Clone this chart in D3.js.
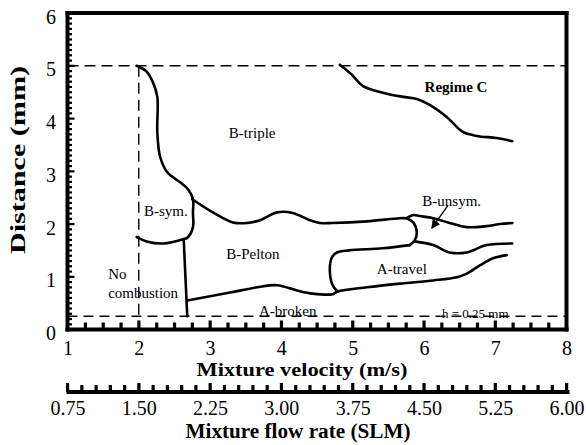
<!DOCTYPE html>
<html><head><meta charset="utf-8">
<script src="https://cdn.jsdelivr.net/npm/d3@7"></script>
<style>body{margin:0;background:#fff}svg{display:block}</style>
</head><body>
<svg id="c" width="586" height="445"></svg>
<script>
// ---- data (velocity m/s, distance mm) ----
const velocityTicks = [1, 2, 3, 4, 5, 6, 7, 8];
const distanceTicks = [0, 1, 2, 3, 4, 5, 6];
const flowTicks = [0.75, 1.50, 2.25, 3.00, 3.75, 4.50, 5.25, 6.00];
const upperDistance = 5;       // dashed line
const wallDistance = 0.25;     // h = 0.25 mm
const minVelocity = 2;         // no-combustion limit

const bTripleBoundary = [[1.97,5.00],[2.11,4.89],[2.20,4.68],[2.26,4.41],[2.26,3.73],[2.30,3.27],[2.40,2.98],[2.58,2.79],[2.69,2.66],[2.76,2.47],[2.76,2.22],[2.76,1.94],[2.69,1.75],[2.62,1.71],[2.34,1.63],[2.11,1.67],[1.97,1.75]];
const bSymPeltonDivider = [[2.63,1.71],[2.68,0.25]];
const bPeltonTop = [[2.75,2.47],[3.04,2.22],[3.32,2.03],[3.52,2.02],[3.70,2.07],[3.94,2.22],[4.16,2.21],[4.40,2.07],[4.54,2.02],[4.72,2.02],[5.20,2.05],[5.66,2.11],[5.76,2.11]];
const bUnsymLeft = [[5.76,2.11],[5.85,2.03],[5.90,1.84],[5.87,1.69],[5.80,1.60]];
const bUnsymTop = [[5.76,2.11],[5.85,2.17],[5.94,2.15],[6.13,2.11],[6.36,2.02],[6.60,1.94],[6.88,1.96],[7.07,2.00],[7.24,2.02]];
const bUnsymBottom = [[5.87,1.67],[6.13,1.60],[6.36,1.46],[6.60,1.46],[6.88,1.60],[7.24,1.63]];
const aTravelTop = [[5.80,1.60],[5.42,1.54],[4.95,1.50],[4.78,1.46],[4.71,1.37],[4.68,1.12],[4.72,0.84],[4.79,0.72]];
const aBrokenTop = [[2.68,0.55],[3.28,0.70],[3.66,0.80],[3.94,0.84],[4.22,0.74],[4.44,0.68],[4.72,0.67],[4.79,0.72],[5.20,0.80],[5.66,0.87],[6.13,0.93],[6.46,0.99],[6.60,1.06],[6.79,1.22],[6.97,1.35],[7.16,1.41]];
const regimeCBoundary = [[4.82,5.02],[4.99,4.83],[5.14,4.62],[5.42,4.49],[5.71,4.41],[5.90,4.37],[6.08,4.26],[6.32,4.03],[6.54,3.75],[6.74,3.67],[7.02,3.63],[7.24,3.57]];

const regionNames = ["B-triple", "Regime C", "B-sym.", "B-Pelton", "A-travel", "A-broken", "B-unsym."];
const regionVelocity = [3.59, 6.45, 2.38, 3.60, 5.69, 4.09, 6.39];
const regionDistance = [3.73, 4.60, 2.26, 1.43, 1.16, 0.36, 2.45];
const noCombustionLines = ["No", "combustion"];
const noCombustionAt = [1.57, 1.06, 0.70]; // velocity, distance line1, distance line2
const wallLabel = "h = 0.25 mm";
const wallLabelAt = [6.72, 0.30];
const arrowFrom = [6.34, 2.36];
const arrowTo = [6.11, 1.92];

// ---- drawing ----
const svg = d3.select("#c");
const FONT = "'Liberation Serif','DejaVu Serif',serif";
const x = d3.scaleLinear().domain([1, 8]).range([67.5, 566.5]);
const y = d3.scaleLinear().domain([0, 6]).range([329.5, 13]);
const flow = d3.scaleLinear().domain([0.75, 6]).range([67.5, 566.5]);
const X0 = x(1), X1 = x(8), Y0 = y(0), Y1 = y(6);

// dashed reference lines
svg.append("line").attr("x1", X0).attr("x2", X1).attr("y1", y(upperDistance)).attr("y2", y(upperDistance))
  .attr("stroke", "#000").attr("stroke-width", 1.4).attr("stroke-dasharray", "11,6");
svg.append("line").attr("x1", X0).attr("x2", X1).attr("y1", y(wallDistance)).attr("y2", y(wallDistance))
  .attr("stroke", "#000").attr("stroke-width", 1.4).attr("stroke-dasharray", "10,6");
svg.append("line").attr("x1", x(minVelocity)).attr("x2", x(minVelocity)).attr("y1", y(upperDistance)).attr("y2", Y0)
  .attr("stroke", "#000").attr("stroke-width", 1.4).attr("stroke-dasharray", "11,6");

// boundary curves
const line = d3.line().x(d => x(d[0])).y(d => y(d[1])).curve(d3.curveCatmullRom.alpha(0.5));
[bTripleBoundary, bSymPeltonDivider, bPeltonTop, bUnsymLeft, bUnsymTop, bUnsymBottom, aTravelTop, aBrokenTop, regimeCBoundary]
  .forEach(pts => svg.append("path").attr("d", line(pts)).attr("fill", "none")
    .attr("stroke", "#000").attr("stroke-width", 2.6).attr("stroke-linejoin", "round").attr("stroke-linecap", "round"));

// arrow
svg.append("defs").append("marker").attr("id", "ah").attr("viewBox", "0 0 10 10").attr("refX", 9).attr("refY", 5)
  .attr("markerWidth", 7).attr("markerHeight", 7).attr("orient", "auto")
  .append("path").attr("d", "M0,0L10,5L0,10z").attr("fill", "#000");
svg.append("line").attr("x1", x(arrowFrom[0])).attr("y1", y(arrowFrom[1])).attr("x2", x(arrowTo[0])).attr("y2", y(arrowTo[1]))
  .attr("stroke", "#000").attr("stroke-width", 1.3).attr("marker-end", "url(#ah)");

// region labels
svg.selectAll("text.region").data(regionNames).join("text").attr("class", "region")
  .attr("x", (d, i) => x(regionVelocity[i])).attr("y", (d, i) => y(regionDistance[i])).attr("dy", "0.35em")
  .attr("text-anchor", "middle").attr("font-family", FONT).attr("font-size", 15)
  .attr("font-weight", d => d === "Regime C" ? "bold" : "normal").text(d => d);
noCombustionLines.forEach((t, i) => svg.append("text").attr("x", x(noCombustionAt[0])).attr("y", y(noCombustionAt[i + 1]))
  .attr("dy", "0.35em").attr("font-family", FONT).attr("font-size", 15).text(t));
svg.append("text").attr("x", x(wallLabelAt[0])).attr("y", y(wallLabelAt[1])).attr("dy", "0.35em")
  .attr("text-anchor", "middle").attr("font-family", FONT).attr("font-size", 13).text(wallLabel);

// frame
const frame = svg.append("g").attr("stroke", "#000").attr("stroke-width", 4).attr("stroke-linecap", "square");
frame.append("line").attr("x1", X0).attr("x2", X0).attr("y1", Y1).attr("y2", Y0);
frame.append("line").attr("x1", X0).attr("x2", X1).attr("y1", Y0).attr("y2", Y0);
frame.append("line").attr("x1", X1).attr("x2", X1).attr("y1", Y1).attr("y2", Y0);
frame.append("line").attr("x1", X0).attr("x2", X1).attr("y1", Y1).attr("y2", Y1);

// minor ticks
const yMinor = d3.range(0.1, 6, 0.1);
svg.append("g").selectAll("rect").data(yMinor).join("rect")
  .attr("x", X0).attr("y", d => y(d) - 1).attr("height", 2.2)
  .attr("width", d => Math.abs(d - Math.round(d)) < 1e-6 ? 7 : 4.5).attr("fill", "#000");
const xMinor = d3.range(1.25, 8, 0.25);
svg.append("g").selectAll("rect").data(xMinor).join("rect")
  .attr("x", d => x(d) - 1.5).attr("width", 3.2)
  .attr("y", d => Y0 - (Math.abs(d - Math.round(d)) < 1e-6 ? 9 : 7)).attr("height", d => Math.abs(d - Math.round(d)) < 1e-6 ? 9 : 7)
  .attr("fill", "#000");

// axes labels via d3 axes
const gx = svg.append("g").attr("transform", `translate(0,${Y0})`)
  .call(d3.axisBottom(x).tickValues(velocityTicks).tickSize(0).tickPadding(11).tickFormat(d3.format("d")));
const gy = svg.append("g").attr("transform", `translate(${X0},0)`)
  .call(d3.axisLeft(y).tickValues(distanceTicks).tickSize(0).tickPadding(11.5).tickFormat(d3.format("d")));
gy.selectAll("text").attr("dy", "0.5em");

// flow-rate axis
const FY = 392;
const gf = svg.append("g").attr("transform", `translate(0,${FY})`)
  .call(d3.axisBottom(flow).tickValues(flowTicks).tickSize(0).tickPadding(9).tickFormat(d3.format(".2f")));
svg.append("line").attr("x1", flow(0.75) - 1).attr("x2", flow(6) + 3).attr("y1", FY).attr("y2", FY)
  .attr("stroke", "#000").attr("stroke-width", 4);
const fMinor = d3.range(0.75, 6.0001, 0.15);
svg.append("g").selectAll("rect").data(fMinor).join("rect")
  .attr("x", d => flow(d) - 1.5).attr("width", 3.2)
  .attr("y", d => FY - (Math.abs(d / 0.75 - Math.round(d / 0.75)) < 1e-6 ? 9 : 7))
  .attr("height", d => Math.abs(d / 0.75 - Math.round(d / 0.75)) < 1e-6 ? 9 : 7).attr("fill", "#000");

[gx, gy, gf].forEach(g => {
  g.select(".domain").remove();
  g.selectAll("text").attr("font-family", FONT).attr("font-size", 20).attr("fill", "#000");
});

// axis titles
svg.append("text").attr("x", 302).attr("y", 376).attr("text-anchor", "middle").attr("font-family", FONT)
  .attr("font-size", 19).attr("font-weight", "bold").attr("textLength", 211).attr("lengthAdjust", "spacingAndGlyphs")
  .text("Mixture velocity (m/s)");
svg.append("text").attr("x", 298).attr("y", 438).attr("text-anchor", "middle").attr("font-family", FONT)
  .attr("font-size", 20).attr("font-weight", "bold").attr("textLength", 225).attr("lengthAdjust", "spacingAndGlyphs")
  .text("Mixture flow rate (SLM)");
svg.append("text").attr("transform", "translate(25,160) rotate(-90)").attr("text-anchor", "middle").attr("font-family", FONT)
  .attr("font-size", 21).attr("font-weight", "bold").attr("textLength", 188).attr("lengthAdjust", "spacingAndGlyphs")
  .text("Distance (mm)");
</script>
</body></html>
